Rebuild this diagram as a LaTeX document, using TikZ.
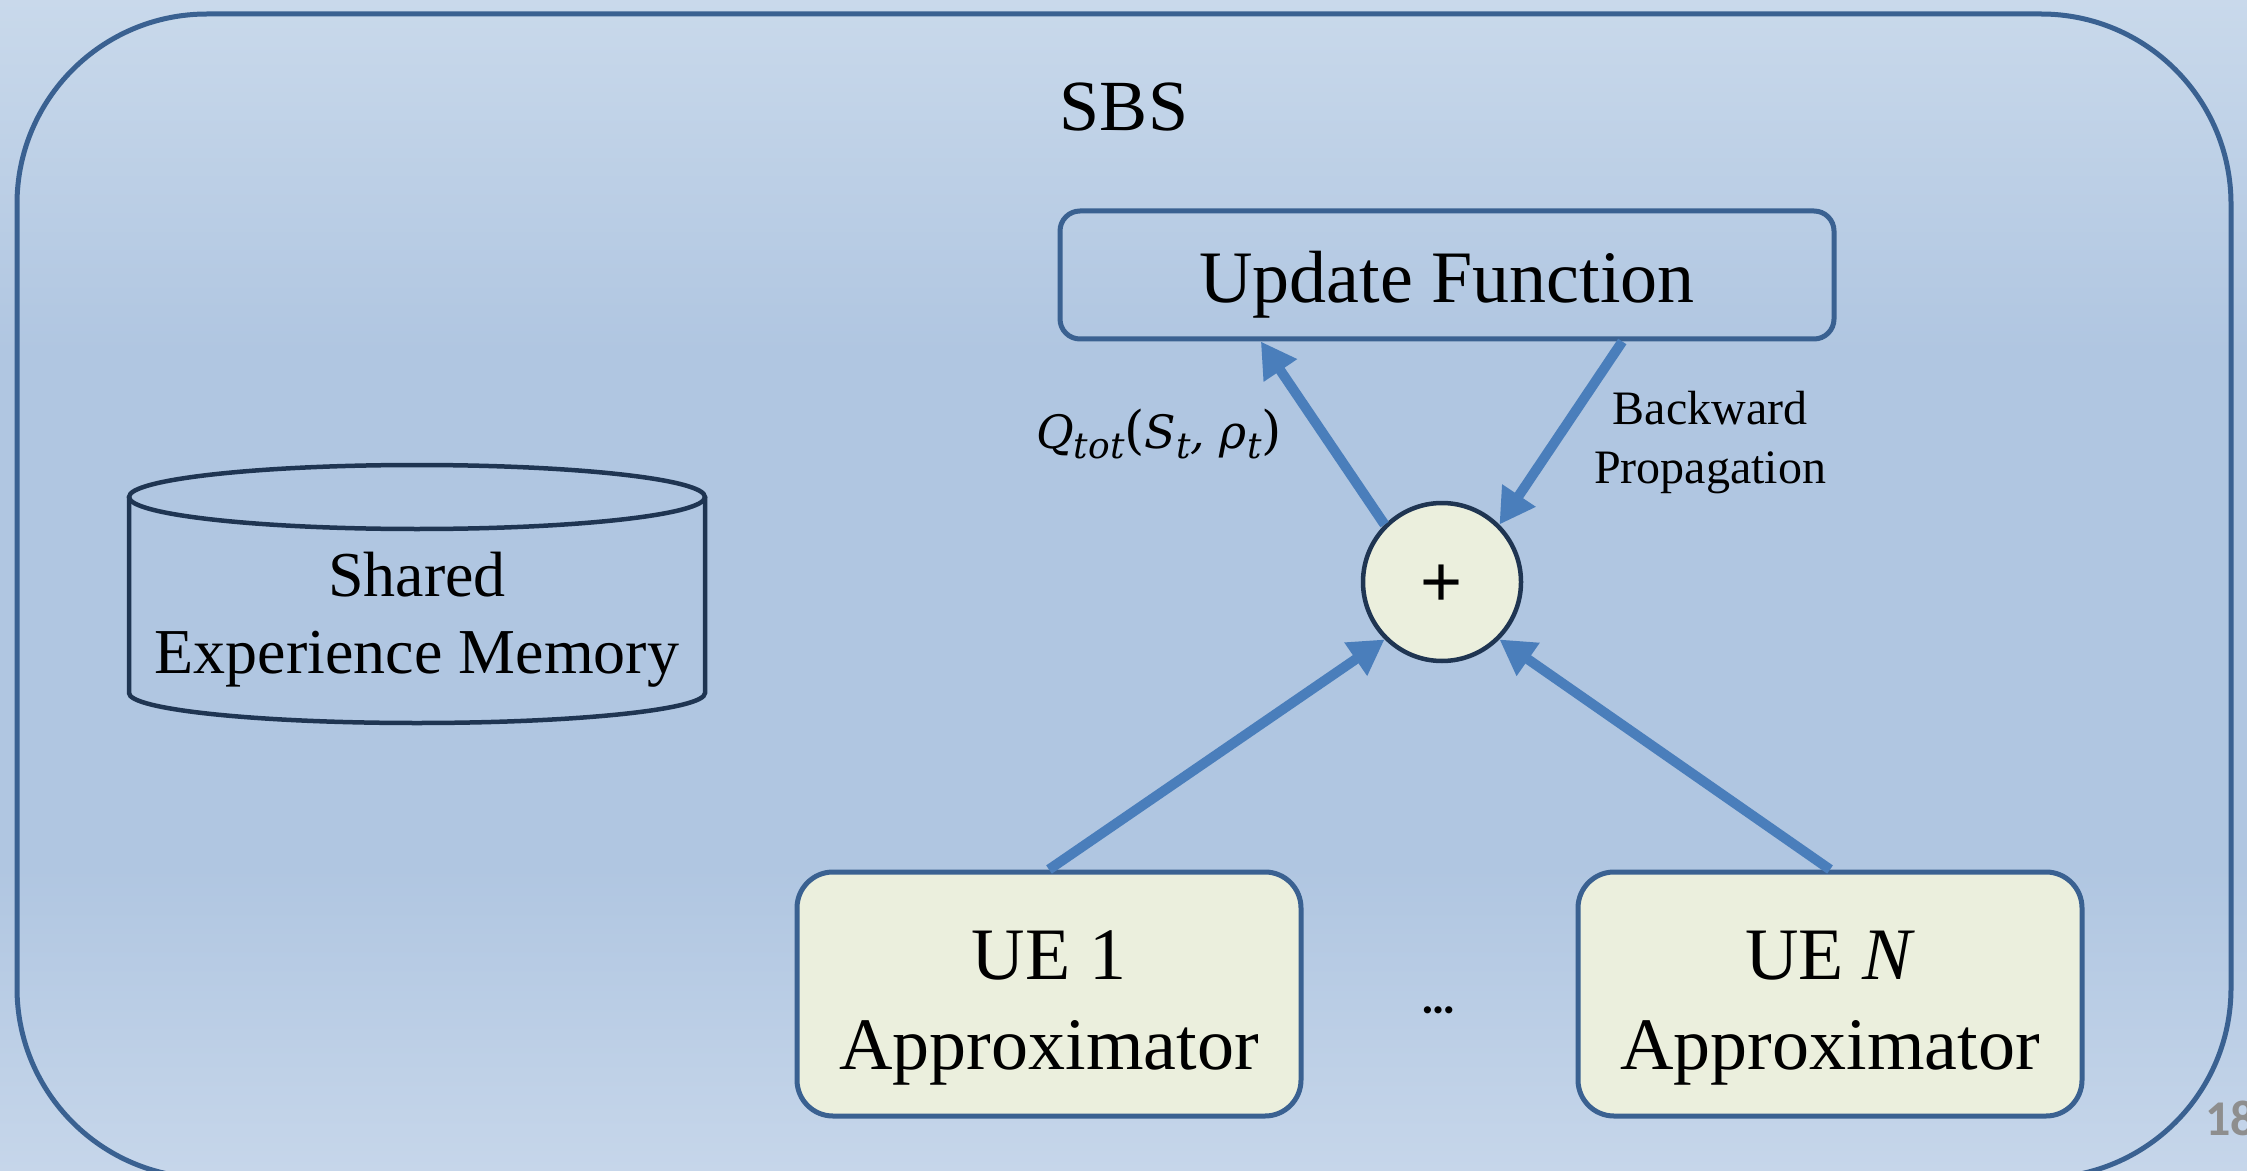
\documentclass[tikz,border=0pt]{standalone}
\usepackage{fontspec}
\setmainfont{Liberation Serif}
\newfontfamily\qfont{DejaVu Serif}
\newfontfamily\plusfont{Liberation Sans}
\newfontfamily\calfont{Carlito}
\usetikzlibrary{arrows.meta,calc}
\definecolor{bgtop}{HTML}{C9D9EB}
\definecolor{bgmid}{HTML}{B0C6E1}
\definecolor{bgbot}{HTML}{C6D6EA}
\definecolor{boxblue}{HTML}{3A6191}
\definecolor{navy}{HTML}{1F3552}
\definecolor{cream}{HTML}{EBEFDD}
\definecolor{arrowblue}{HTML}{4A7EBB}
\definecolor{pagegray}{HTML}{8E8E8E}
\pgfdeclareverticalshading{bgsh}{100bp}{color(0bp)=(bgbot); color(25bp)=(bgbot); color(38bp)=(bgmid); color(60bp)=(bgmid); color(75bp)=(bgtop); color(100bp)=(bgtop)}
\newcommand\qsub[1]{\raisebox{-0.22em}{\fontsize{18pt}{18pt}\selectfont\itshape #1}}
\newcommand\qpar[1]{{\upshape\fontsize{26pt}{26pt}\selectfont #1}}
\tikzset{
  updbox/.style={draw=boxblue, line width=2.5pt, rounded corners=10pt, minimum width=387pt, minimum height=64pt, inner sep=0pt},
  uebox/.style={draw=boxblue, line width=2.5pt, fill=cream, rounded corners=18pt, minimum width=252pt, minimum height=122pt, inner sep=0pt},
  sumnode/.style={circle, draw=navy, line width=2.25pt, fill=cream, minimum size=79pt, inner sep=0pt},
  flow/.style={draw=arrowblue, line width=5pt, -{Triangle[length=17.5pt,width=19pt]}},
  bigtext/.style={inner sep=0pt, align=center, font=\fontsize{37pt}{45pt}\selectfont},
  memtext/.style={inner sep=0pt, align=center, font=\fontsize{32pt}{38.5pt}\selectfont},
  smalltext/.style={inner sep=0pt, align=center, font=\fontsize{24pt}{29.5pt}\selectfont},
}
\begin{document}
\begin{tikzpicture}[x=0.5pt,y=-0.5pt]
\useasboundingbox (0,0) rectangle (2247,1171);
\clip (0,0) rectangle (2247,1171);
\shade[shading=bgsh] (0,0) rectangle (2247,1171);
% outer SBS frame
\draw[draw=boxblue, line width=2.5pt, rounded corners=95pt] (17,14) rectangle (2231,1178);
\node[inner sep=0pt, anchor=base, font=\fontsize{36pt}{36pt}\selectfont] (sbs) at (1124,131) {SBS};
% shared memory cylinder
\draw[draw=navy, line width=2.25pt] (417,497) ellipse[x radius=144pt, y radius=16pt];
\draw[draw=navy, line width=2.25pt] (129,497) -- (129,693) arc[start angle=180, end angle=360, x radius=144pt, y radius=15pt] -- (705,497);
\node[memtext] (mem) at (417,620) {Shared\\Experience Memory};
% update function
\node[updbox] (upd) at (1447,275) {};
\node[inner sep=0pt, anchor=base, font=\fontsize{37pt}{37pt}\selectfont] (updtxt) at (1447,303) {Update Function};
% sum node
\node[sumnode] (plus) at (1442,582) {};
\node[inner sep=0pt, font=\plusfont\fontsize{36pt}{36pt}\selectfont] (plustxt) at (1442,586) {+};
% UE boxes
\node[uebox] (ue1) at (1049,994) {};
\node[bigtext] (ue1txt) at (1049,1008) {UE 1\\Approximator};
\node[uebox] (uen) at (1830,994) {};
\node[bigtext] (uentxt) at (1830,1008) {UE \textit{N}\\Approximator};
\node[inner sep=0pt, anchor=base, font=\calfont\bfseries\fontsize{24pt}{24pt}\selectfont] (dots) at (1439,1013) {…};
% labels
\node[inner sep=0pt, anchor=base, font=\qfont\itshape\fontsize{23pt}{23pt}\selectfont] (qlab) at (1159,448) {Q\qsub{tot}\qpar{(}S\qsub{t}, ρ\qsub{t}\qpar{)}};
\node[smalltext] (bp) at (1710,443) {Backward\\Propagation};
% arrows
\draw[flow] (plus.135) -- ($(upd.south west)!0.261!(upd.south east)$);
\draw[flow] ($(upd.south west)!0.725!(upd.south east)$) -- (plus.45);
\draw[flow] (ue1.north) -- (plus.225);
\draw[flow] (uen.north) -- (plus.-45);
% page number
\node[inner sep=0pt, anchor=base west, text=pagegray, font=\calfont\bfseries\fontsize{25pt}{25pt}\selectfont] (pgno) at (2205,1135) {18};
\end{tikzpicture}
\end{document}
